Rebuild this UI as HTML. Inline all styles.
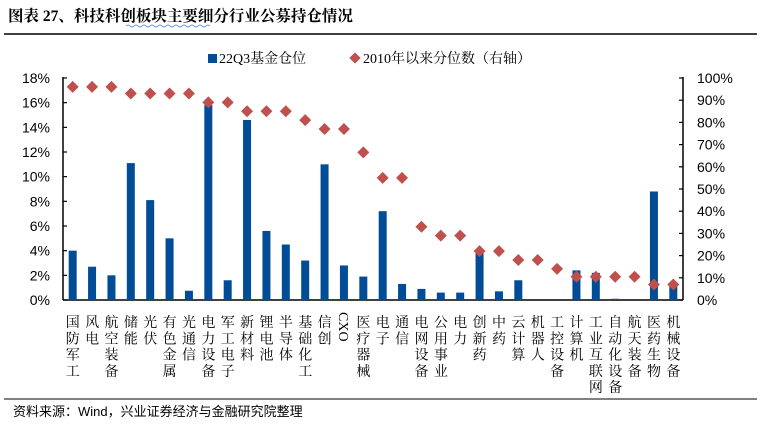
<!DOCTYPE html>
<html><head><meta charset="utf-8"><style>
html,body{margin:0;padding:0;background:#fff;}
svg{display:block;font-family:"Liberation Serif","Noto Serif CJK SC","Noto Sans CJK SC",serif;}
.tick{font-family:"Liberation Sans","Noto Sans CJK SC",sans-serif;}
</style></head><body>
<svg id="chart" width="764" height="425" viewBox="0 0 764 425">
<text x="8" y="21" font-size="15.5" font-weight="bold" font-family="Liberation Serif,Noto Serif CJK SC,serif">图表 27、科技科创板块主要细分行业公募持仓情况</text>
<path d="M126 26 q2 -2 4 0 t4 0 t4 0 t4 0 t4 0 t4 0 t4 0 t4 0 t4 0 t4 0 t4 0 t4 0 t4 0 t4 0 t4 0 t4 0 t4 0 t4 0 t4 0 t4 0 t4 0" stroke="#4a7fd6" fill="none" stroke-width="0.8"/>
<line x1="4" y1="34" x2="757" y2="34" stroke="#000" stroke-width="1.5"/>
<g>
<rect x="208" y="54" width="9" height="9" fill="#004C97"/>
<text x="219" y="63" font-size="14">22Q3基金仓位</text>
<rect x="351" y="54" width="8" height="8" fill="#C0504D" transform="rotate(45 355 58)"/>
<text x="363" y="63" font-size="14">2010年以来分位数（右轴）</text>
</g>
<g id="axes"></g>
<g id="bars"></g>
<g id="points"></g>
<g id="labels"></g>
<line x1="4" y1="399" x2="757" y2="399" stroke="#000" stroke-width="1"/>
<text x="13" y="416" font-size="13" font-family="Liberation Sans,Noto Sans CJK SC,sans-serif">资料来源：Wind，兴业证券经济与金融研究院整理</text>
</svg>
<script>
const categories=["国防军工","风电","航空装备","储能","光伏","有色金属","光通信","电力设备","军工电子","新材料","锂电池","半导体","基础化工","信创","CXO","医疗器械","电子","通信","电网设备","公用事业","电力","创新药","中药","云计算","机器人","工控设备","计算机","工业互联网","自动化设备","航天装备","医药生物","机械设备"];
const positions=[4.0,2.7,2.0,11.1,8.1,5.0,0.75,15.8,1.6,14.6,5.6,4.5,3.2,11.0,2.8,1.9,7.2,1.3,0.9,0.6,0.6,3.8,0.7,1.6,0,0,2.4,2.2,0.1,0,8.8,1.3];
const percentiles=[96,96,96,93,93,93,93,89,89,85,85,85,81,77,77,66.5,55,55,33,29,29,22,22,18,18,14,10.5,10.5,10.5,10.5,7,7];
const leftTicks=[0,2,4,6,8,10,12,14,16,18];
const rightTicks=[0,10,20,30,40,50,60,70,80,90,100];
const NS="http://www.w3.org/2000/svg";
const X0=63,X1=683,Y0=300,Y1=78;
const n=categories.length,step=(X1-X0)/n;
const xc=i=>X0+step*(i+0.5);
const yL=v=>Y0-(v/18)*(Y0-Y1);
const yR=v=>Y0-(v/100)*(Y0-Y1);
function mk(tag,attrs,parent){const e=document.createElementNS(NS,tag);for(const k in attrs)e.setAttribute(k,attrs[k]);parent.appendChild(e);return e;}
const ax=document.getElementById('axes');
let a=mk('line',{x1:X0,y1:Y1-1,x2:X0,y2:Y0,stroke:'#000','stroke-width':1.5},ax);


a=mk('line',{x1:X1,y1:Y1-1,x2:X1,y2:Y0,stroke:'#000','stroke-width':1.5},ax);


a=mk('line',{x1:X0,y1:Y0,x2:X1,y2:Y0,stroke:'#000','stroke-width':1.5},ax);


leftTicks.forEach(v=>{
 const y=yL(v);
 const t=mk('line',{x1:X0,y1:y,x2:X0+4,y2:y,stroke:'#000','stroke-width':1.2},ax);
 
 
 const l=mk('text',{x:50,y:y+5,'font-size':14,'text-anchor':'end','class':'tick'},ax);
 l.textContent=v+'%';
 
 
});
rightTicks.forEach(v=>{
 const y=yR(v);
 const t=mk('line',{x1:X1-4,y1:y,x2:X1,y2:y,stroke:'#000','stroke-width':1.2},ax);
 
 
 const l=mk('text',{x:697,y:y+5,'font-size':14,'class':'tick'},ax);
 l.textContent=v+'%';
 
 
});
const bg=document.getElementById('bars');
positions.forEach((v,i)=>{
 const y=yL(v);
 const r=mk('rect',{x:xc(i)-4,y:y,width:8,height:Y0-y,fill:'#004C97'},bg);
 
 
});
const pg=document.getElementById('points');
percentiles.forEach((v,i)=>{
 const cx=xc(i),cy=yR(v);
 const p=mk('polygon',{points:`${cx},${cy-6} ${cx+6},${cy} ${cx},${cy+6} ${cx-6},${cy}`,fill:'#C0504D'},pg);
 
 
});
const lg=document.getElementById('labels');
categories.forEach((c,i)=>{
 const x=xc(i);
 if(c==='CXO'){
  const t=mk('text',{x:0,y:0,'font-size':14,transform:`translate(${x-5},${312}) rotate(90)`},lg);
  t.textContent=c;
  
  
  return;
 }
 const t=mk('text',{x:x,y:327,'font-size':14,'text-anchor':'middle'},lg);
 
 
 [...c].forEach((ch,j)=>{const s=mk('tspan',{x:x,y:327+j*16.3},t);s.textContent=ch;});
});
</script>
</body></html>
